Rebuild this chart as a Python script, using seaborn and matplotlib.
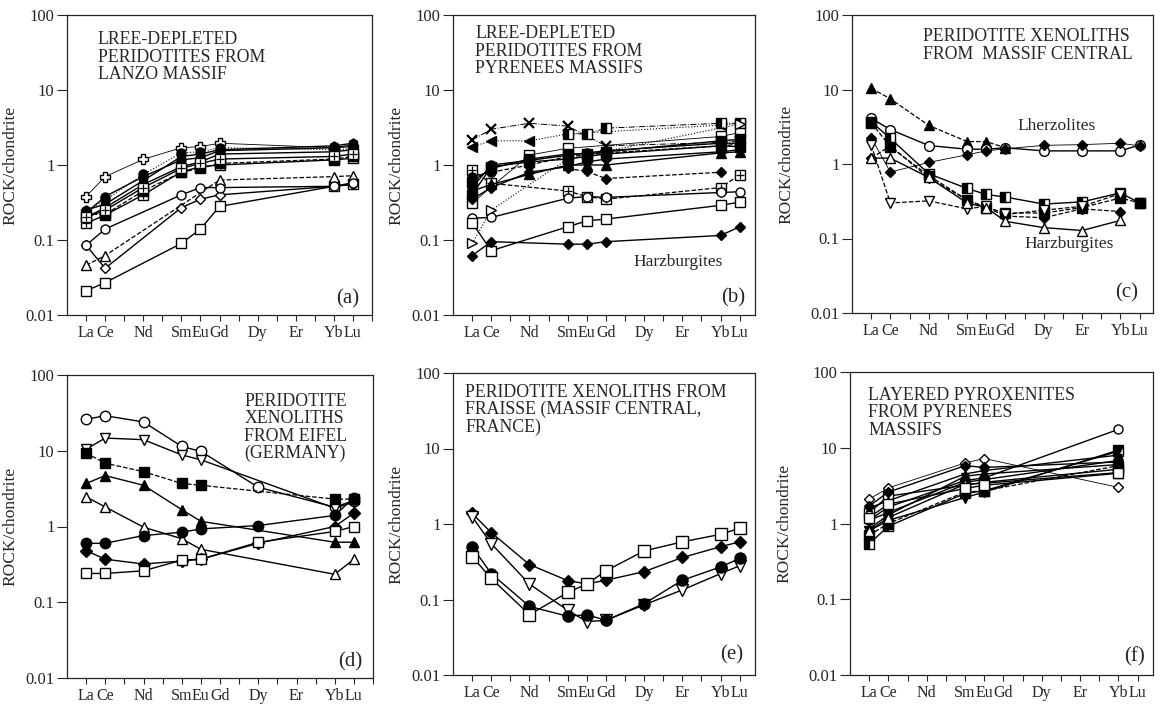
import seaborn as sns
import matplotlib.pyplot as plt
from matplotlib.ticker import NullLocator

# REE diagram data, values are ROCK/chondrite
ree = ['La', 'Ce', 'Pr', 'Nd', 'Pm', 'Sm', 'Eu', 'Gd', 'Tb', 'Dy', 'Ho', 'Er', 'Tm', 'Yb', 'Lu']
shown = ['La', 'Ce', 'Nd', 'Sm', 'Eu', 'Gd', 'Dy', 'Er', 'Yb', 'Lu']
ytick_vals = [0.01, 0.1, 1, 10, 100]
ytick_labels = ['0.01', '0.1', '1', '10', '100']

# (a) Lanzo
a_elems = ['La', 'Ce', 'Nd', 'Sm', 'Eu', 'Gd', 'Yb', 'Lu']
a_rows = [
    [0.021, 0.027, None, 0.09, 0.14, 0.28, 0.52, 0.56],
    [0.085, 0.042, None, 0.27, 0.35, 0.40, 0.52, 0.55],
    [0.046, 0.062, None, None, None, 0.63, 0.70, 0.72],
    [0.085, 0.14, None, 0.40, 0.50, 0.50, 0.52, 0.58],
    [0.38, 0.70, 1.19, 1.70, 1.76, 1.95, 1.70, 1.75],
    [0.167, 0.215, 0.40, 0.81, 0.95, 1.0, 1.17, 1.23],
    [0.23, 0.38, 0.70, 1.17, 1.25, 1.55, 1.70, 1.85],
    [0.20, 0.27, 0.55, 0.95, 1.10, 1.40, 1.50, 1.60],
    [0.25, 0.30, 0.62, 1.30, 1.40, 1.60, 1.80, 1.95],
    [0.22, 0.22, 0.45, 0.80, 0.90, 1.05, 1.20, 1.30],
    [0.24, 0.34, 0.75, 1.45, 1.50, 1.70, 1.60, 1.65],
    [0.20, 0.25, 0.50, 0.90, 1.05, 1.20, 1.30, 1.40],
]
a_marks = ['s', 'd', '^', 'o', 'P', '#', 'O', 'O', 'H', 'S', 'O', '#']
a_lines = ['-', '-', '--', '-', 't', '-', '-', '-', '-', '--', ':', '-']

# (b) Pyrenees peridotites
b_elems = ['La', 'Ce', 'Nd', 'Sm', 'Eu', 'Gd', 'Yb', 'Lu']
b_rows = [
    [2.15, 3.0, 3.6, 3.3, None, 1.8, 2.0, 2.1],
    [1.75, 2.1, 2.1, 2.6, None, None, 3.4, 3.6],
    [None, None, None, 2.6, 2.6, 3.1, 3.6, 3.6],
    [0.31, None, 1.36, 1.67, None, None, 2.4, 2.7],
    [0.85, 0.57, None, 0.45, 0.38, 0.35, 0.50, 0.74],
    [None, None, None, 0.9, 0.82, 0.66, 0.80, None],
    [0.195, 0.20, None, 0.36, 0.38, 0.37, 0.43, 0.44],
    [0.17, 0.072, None, 0.15, 0.18, 0.19, 0.29, 0.32],
    [0.062, 0.095, None, 0.088, 0.088, 0.095, 0.115, 0.15],
    [0.09, 0.25, None, 1.2, None, None, None, 3.5],
    [0.45, 0.55, 0.75, 1.0, 1.0, 1.0, 1.45, 1.5],
    [0.5, 1.0, 1.15, 1.35, 1.45, 1.55, 1.95, 1.95],
    [0.6, 0.9, 1.2, 1.4, 1.4, 1.5, 2.1, 2.2],
    [0.7, 0.8, 1.0, 1.3, 1.35, 1.45, 1.8, 1.9],
    [0.4, 0.95, 1.1, 1.2, 1.3, 1.4, 1.8, 1.75],
    [0.35, 0.5, 0.8, 0.95, 1.1, 1.2, 1.5, 1.6],
]
b_marks = ['x', '<', 'h', 's', '#', 'D', 'o', 's', 'D', '>', 'T', 'O', 'S', 'O', 'S', 'D']
b_lines = ['-.', ':', '-.', 't', '--', '--', '-', '-', '-', ':', '-', '-', '-', '--', '-', '-']

# (c) Massif Central xenoliths
c_elems = ['La', 'Ce', 'Nd', 'Sm', 'Eu', 'Gd', 'Dy', 'Er', 'Yb', 'Lu']
c_rows = [
    [10.4, 7.5, 3.3, 2.0, 2.0, 1.65, None, None, None, None],
    [4.1, 2.9, 1.77, 1.58, 1.58, 1.65, 1.5, 1.5, 1.5, 1.8],
    [2.25, 0.78, 1.05, 1.33, 1.5, 1.6, 1.78, 1.82, 1.9, 1.75],
    [3.7, 2.2, 0.74, 0.47, 0.39, 0.36, 0.29, 0.31, 0.41, 0.30],
    [3.6, 1.7, 0.70, 0.33, 0.26, 0.22, 0.22, 0.26, 0.35, 0.30],
    [1.2, 1.75, 0.65, 0.33, 0.26, 0.20, 0.19, 0.25, 0.23, None],
    [1.8, 0.30, 0.32, 0.25, 0.27, 0.21, 0.24, 0.27, 0.40, None],
    [1.2, 1.2, 0.66, 0.30, 0.26, 0.17, 0.14, 0.128, 0.175, None],
]
c_marks = ['T', 'o', 'D', 'h', 'S', 'D', 'v', '^']
c_lines = ['--', '-', 't', '-', '--', '--', '--', '-']

# (d) Eifel
d_elems = ['La', 'Ce', 'Nd', 'Sm', 'Eu', 'Dy', 'Yb', 'Lu']
d_rows = [
    [26, 29, 24, 11.4, 9.8, 3.3, 1.8, 2.2],
    [10.5, 14.7, 14.0, 8.8, 7.6, None, 1.75, 2.1],
    [9.3, 6.85, 5.3, 3.7, 3.5, None, 2.3, 2.3],
    [3.7, 4.7, 3.5, 1.67, 1.17, None, 0.62, 0.62],
    [2.46, 1.81, 0.98, 0.69, 0.50, None, 0.234, 0.37],
    [0.6, 0.6, 0.76, 0.84, 0.93, 1.03, 1.4, 2.4],
    [0.48, 0.37, 0.32, 0.35, 0.37, 0.60, 1.0, 1.5],
    [0.24, 0.24, 0.26, 0.36, 0.37, 0.62, 0.86, 1.0],
]
d_marks = ['o', 'v', 'S', 'T', '^', 'O', 'D', 's']
d_lines = ['-', '-', '--', '-', '-', '-', '-', '-']

# (e) Fraisse
e_elems = ['La', 'Ce', 'Nd', 'Sm', 'Eu', 'Gd', 'Dy', 'Er', 'Yb', 'Lu']
e_rows = [
    [1.38, 0.77, 0.29, 0.178, 0.161, 0.18, 0.234, 0.36, 0.50, 0.58],
    [1.25, 0.55, 0.16, 0.072, 0.051, 0.053, 0.085, 0.134, 0.22, 0.28],
    [0.50, 0.22, 0.081, 0.06, 0.063, 0.053, 0.088, 0.18, 0.27, 0.35],
    [0.37, 0.19, 0.063, 0.124, 0.16, 0.24, 0.44, 0.58, 0.73, 0.88],
]
e_marks = ['D', 'v', 'O', 's']
e_lines = ['-', '-', '-', '-']

# (f) layered pyroxenites
f_elems = ['La', 'Ce', 'Sm', 'Eu', 'Yb']
f_rows = [
    [1.1, 1.65, 3.7, 4.0, 17.5],
    [2.1, 2.95, 6.3, 7.2, 3.0],
    [1.38, 2.3, 3.2, 3.5, 5.2],
    [0.54, 0.92, 2.5, 2.7, 9.0],
    [0.8, 1.1, 2.2, 2.6, 9.3],
    [1.7, 2.6, 5.8, 5.5, 6.5],
    [0.85, 1.3, 4.2, 4.5, 6.0],
    [0.7, 1.0, 2.6, 2.7, 5.8],
    [1.1, 1.4, 3.5, 3.8, 6.8],
    [0.8, 1.2, 3.3, 3.4, 4.7],
    [1.6, 2.0, 4.5, 5.0, 8.0],
    [1.2, 1.8, 2.9, 3.2, 4.6],
]
f_marks = ['o', 'd', 's', 'h', 'V', 'D', 'T', 'S', 'O', '^', '*', 's']
f_lines = ['-', 't', '-', '-', '-', '-', '-', '--', '-', '-', '-', '-']

sns.set_style('ticks')
plt.rcParams['font.family'] = ['Liberation Serif', 'DejaVu Serif']
plt.rcParams['axes.linewidth'] = 0.9


def marker_kw(code, ms):
    # open = white face, capitals = black face
    table = {
        'o': ('o', 'white'), 'O': ('o', 'black'),
        's': ('s', 'white'), 'S': ('s', 'black'),
        '^': ('^', 'white'), 'T': ('^', 'black'),
        'v': ('v', 'white'), 'V': ('v', 'black'),
        'd': ('D', 'white'), 'D': ('D', 'black'),
        'P': ('P', 'white'), '#': ('s', 'white'),
        'x': ('x', 'black'), '<': ('<', 'black'), '>': ('>', 'white'),
        'H': ('h', 'black'), '*': ('*', 'black'), 'h': ('s', 'black'),
    }
    m, fc = table[code]
    kw = dict(marker=m, markerfacecolor=fc, markeredgecolor='black',
              markeredgewidth=1.0, markersize=ms)
    if m == 'D':
        kw['markersize'] = ms * 0.8
    if code == 'x':
        kw['markeredgewidth'] = 1.6
    if code == 'h':
        kw['fillstyle'] = 'left'
        kw['markerfacecoloralt'] = 'white'
    return kw


line_map = {'-': ('-', 1.0), 't': ('-', 0.6), '--': ('--', 0.9),
            ':': (':', 0.8), '-.': ('-.', 0.7)}


def draw(ax, elems, rows, marks, lines, ms=7):
    for vals, mk, ln in zip(rows, marks, lines):
        xs = [ree.index(e) for e, v in zip(elems, vals) if v is not None]
        ys = [v for v in vals if v is not None]
        ls, lw = line_map[ln]
        sns.lineplot(x=xs, y=ys, ax=ax, color='black', linestyle=ls,
                     linewidth=lw, **marker_kw(mk, ms))
        if mk == '#':
            ax.plot(xs, ys, ls='none', marker='+', ms=ms * 0.9, mew=0.9,
                    color='black')


def setup(ax, xmax, ylab_x):
    ax.set_yscale('log')
    ax.set_ylim(ytick_vals[0], ytick_vals[-1])
    ax.set_yticks(ytick_vals)
    ax.set_yticklabels(ytick_labels)
    ax.yaxis.set_minor_locator(NullLocator())
    ax.set_xlim(-1, xmax)
    ticks = list(range(0, int(xmax) + 1))
    ax.set_xticks(ticks)
    ax.set_xticklabels([ree[t] if t < len(ree) and ree[t] in shown else ''
                        for t in ticks])
    ax.tick_params(axis='y', direction='out', length=7, width=0.8,
                   labelsize=12, pad=2)
    ax.tick_params(axis='x', direction='out', length=4, width=0.8,
                   labelsize=11.5, pad=3)
    ax.set_xlabel('')
    ax.set_ylabel('ROCK/chondrite', fontsize=12.5)
    ax.yaxis.set_label_coords(ylab_x, 0.5)


fig = plt.figure(figsize=(11.61, 7.08), dpi=100)
W, H = 1161, 708


def axes_px(left, top, right, bottom):
    return fig.add_axes([left / W, 1 - bottom / H, (right - left) / W,
                         (bottom - top) / H])


ax_a = axes_px(67, 15, 372, 315)
ax_b = axes_px(453, 15, 755, 315)
ax_c = axes_px(852, 15, 1153, 313)
ax_d = axes_px(67, 375, 373, 678)
ax_e = axes_px(453, 373, 755, 675)
ax_f = axes_px(850, 372, 1153, 675)

draw(ax_a, a_elems, a_rows, a_marks, a_lines, ms=6.5)
draw(ax_b, b_elems, b_rows, b_marks, b_lines, ms=6.5)
draw(ax_c, c_elems, c_rows, c_marks, c_lines, ms=7)
draw(ax_d, d_elems, d_rows, d_marks, d_lines, ms=7.5)
draw(ax_e, e_elems, e_rows, e_marks, e_lines, ms=8)
draw(ax_f, f_elems, f_rows, f_marks, f_lines, ms=6.5)

setup(ax_a, 15, -0.16)
setup(ax_b, 14.8, -0.16)
setup(ax_c, 14.7, -0.19)
setup(ax_d, 15, -0.16)
setup(ax_e, 14.8, -0.16)
setup(ax_f, 14.8, -0.19)

tkw = dict(fontsize=12.8, va='top', ha='left', linespacing=1.02)
ax_a.text(0.10, 0.945, 'LREE-DEPLETED\nPERIDOTITES FROM\nLANZO MASSIF',
          transform=ax_a.transAxes, **tkw)
ax_b.text(0.073, 0.965, 'LREE-DEPLETED\nPERIDOTITES FROM\nPYRENEES MASSIFS',
          transform=ax_b.transAxes, **tkw)
ax_c.text(0.236, 0.955, 'PERIDOTITE XENOLITHS\nFROM  MASSIF CENTRAL',
          transform=ax_c.transAxes, **tkw)
ax_d.text(0.58, 0.94, 'PERIDOTITE\nXENOLITHS\nFROM EIFEL\n(GERMANY)',
          transform=ax_d.transAxes, **tkw)
ax_e.text(0.04, 0.965, 'PERIDOTITE XENOLITHS FROM\nFRAISSE (MASSIF CENTRAL,\nFRANCE)',
          transform=ax_e.transAxes, **tkw)
ax_f.text(0.06, 0.95, 'LAYERED PYROXENITES\nFROM PYRENEES\nMASSIFS',
          transform=ax_f.transAxes, **tkw)

ax_c.text(0.68, 0.627, 'Lherzolites', transform=ax_c.transAxes,
          fontsize=12.5, ha='center', va='center')
ax_c.text(0.72, 0.23, 'Harzburgites', transform=ax_c.transAxes,
          fontsize=12.5, ha='center', va='center')
ax_b.text(0.745, 0.177, 'Harzburgites', transform=ax_b.transAxes,
          fontsize=12.5, ha='center', va='center')

for ax, lab, px, py in [(ax_a, '(a)', 0.92, 0.055), (ax_b, '(b)', 0.927, 0.057),
                        (ax_c, '(c)', 0.914, 0.067), (ax_d, '(d)', 0.925, 0.053),
                        (ax_e, '(e)', 0.924, 0.066), (ax_f, '(f)', 0.94, 0.06)]:
    ax.text(px, py, lab, transform=ax.transAxes, fontsize=15,
            ha='center', va='center')

fig.savefig('out.png', dpi=100)
